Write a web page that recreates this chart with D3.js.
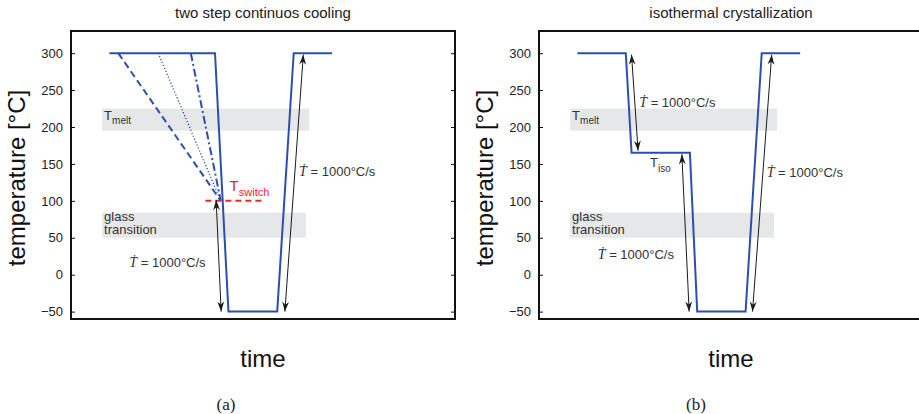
<!DOCTYPE html>
<html>
<head>
<meta charset="utf-8">
<title>two step continuos cooling / isothermal crystallization</title>
<script src="https://cdn.jsdelivr.net/npm/d3@7"></script>
<style>
    body { margin: 0; background: #fff; }
    svg { display: block; }
    .tick-label { font-family: "Liberation Sans", Arial, sans-serif; font-size: 13px; fill: #222; }
    .title { font-family: "Liberation Sans", Arial, sans-serif; font-size: 15px; fill: #222; }
    .big { font-family: "Liberation Sans", Arial, sans-serif; font-size: 24px; fill: #111; }
    .note { font-family: "Liberation Sans", Arial, sans-serif; font-size: 13px; fill: #333; }
    .caption { font-family: "Liberation Serif", "DejaVu Serif", serif; font-size: 17px; fill: #222; }
</style>
</head>
<body>
<script>
    // --- data (time is arbitrary units 0..100) ---
    var yTicks = [-50, 0, 50, 100, 150, 200, 250, 300];
    var titles = ["two step continuos cooling", "isothermal crystallization"];
    var captions = ["(a)", "(b)"];

    // panel (a): fast quench / reheat profile
    var coolTime = [10, 37.5, 41, 53.7, 58, 68];
    var coolTemp = [300, 300, -50, -50, 300, 300];
    // slower first-step cooling lines, all ending at T_switch
    var slowStart = [12.3, 22.7, 31.2];
    var slowStyle = ["dash", "dot", "dashdot"];
    var switchPoint = [39, 100];
    var switchLine = [35, 50];   // time extent of the red T_switch line

    // panel (b): isothermal hold
    var isoTime = [10, 22.6, 24.1, 39.3, 41.2, 53.8, 58, 68];
    var isoTemp = [300, 300, 165, 165, -50, -50, 300, 300];

    // grey bands [timeStart, timeEnd, tempLow, tempHigh]
    var meltBand = [8.1, 62, 195, 225];
    var glassBand = [8.1, 61.2, 50, 84];

    // double headed arrows [t1, T1, t2, T2]
    var arrowsA = [[37.8, 101, 39.1, -50], [55.7, -50, 60.5, 298]];
    var arrowsB = [[24.1, 298, 25.8, 168], [37.2, 163, 39.1, -50], [55.6, -50, 60.6, 298]];

    // rate labels [t, T]
    var rateA = [[15.2, 10.4], [59.4, 133.8]];
    var rateB = [[26.1, 227], [15.3, 20.8], [59.3, 132]];

    var blue = "#2b4fae";
    var red = "#e8272a";

    var svg = d3.select("body").append("svg")
        .attr("width", 919)
        .attr("height", 414);

    var defs = svg.append("defs");
    defs.append("marker")
        .attr("id", "head")
        .attr("viewBox", "-11 -4 12 8")
        .attr("refX", 0).attr("refY", 0)
        .attr("markerWidth", 12).attr("markerHeight", 8)
        .attr("markerUnits", "userSpaceOnUse")
        .attr("orient", "auto-start-reverse")
        .append("path")
        .attr("d", "M0,0 L-10,-3.4 L-7,0 L-10,3.4 Z")
        .attr("fill", "#1a1a1a");

    var y = d3.scaleLinear().domain([-60, 330]).range([319, 31]);

    function panel(x0, idx) {
        var x = d3.scaleLinear().domain([0, 100]).range([x0, x0 + 384]);
        var g = svg.append("g");

        // bands
        [meltBand, glassBand].forEach(function (b) {
            g.append("rect")
                .attr("x", x(b[0])).attr("width", x(b[1]) - x(b[0]))
                .attr("y", y(b[3])).attr("height", y(b[2]) - y(b[3]))
                .attr("fill", "#e6e7e8");
        });

        // axes (MATLAB style, ticks inside)
        var yAxisL = d3.axisLeft(y).tickValues(yTicks).tickSize(-4).tickPadding(8)
            .tickFormat(function (d) { return d < 0 ? "\u2212" + Math.abs(d) : d; });
        var yAxisR = d3.axisRight(y).tickValues(yTicks).tickSize(-4).tickFormat("");
        var ga = g.append("g").attr("transform", "translate(" + x0 + ",0)").call(yAxisL);
        ga.selectAll("text").attr("class", "tick-label").attr("font-size", null).attr("font-family", null);
        g.append("g").attr("transform", "translate(" + (x0 + 384) + ",0)").call(yAxisR);
        g.selectAll(".domain").remove();
        g.selectAll(".tick line").attr("stroke", "#111").attr("stroke-width", 1);
        g.append("rect")
            .attr("x", x0).attr("y", 31).attr("width", 384).attr("height", 288)
            .attr("fill", "none").attr("stroke", "#111").attr("stroke-width", 2);

        // titles and labels
        g.append("text").attr("class", "title").attr("x", x0 + 192).attr("y", 18)
            .attr("text-anchor", "middle").text(titles[idx]);
        g.append("text").attr("class", "big")
            .attr("transform", "translate(" + (x0 - 46) + ",178) rotate(-90)")
            .attr("text-anchor", "middle").text("temperature [\u00b0C]");
        g.append("text").attr("class", "big").attr("x", x0 + 192).attr("y", 367)
            .attr("text-anchor", "middle").text("time");
        g.append("text").attr("class", "caption").attr("x", idx === 0 ? 226 : 696).attr("y", 410)
            .attr("text-anchor", "middle").text(captions[idx]);

        // band labels
        var tm = g.append("text").attr("class", "note").attr("x", x(meltBand[0]) + 2).attr("y", y(209))
            .attr("font-size", "14px");
        tm.append("tspan").text("T");
        tm.append("tspan").attr("dy", 4).attr("font-size", "10px").text("melt");
        g.append("text").attr("class", "note").attr("x", x(glassBand[0]) + 2).attr("y", y(72.5))
            .attr("font-size", "11px").text("glass");
        g.append("text").attr("class", "note").attr("x", x(glassBand[0]) + 2).attr("y", y(54.6))
            .attr("font-size", "11px").text("transition");

        return {g: g, x: x};
    }

    function arrows(p, list) {
        list.forEach(function (a) {
            p.g.append("line")
                .attr("x1", p.x(a[0])).attr("y1", y(a[1]))
                .attr("x2", p.x(a[2])).attr("y2", y(a[3]))
                .attr("stroke", "#1a1a1a").attr("stroke-width", 1)
                .attr("marker-start", "url(#head)").attr("marker-end", "url(#head)");
        });
    }

    function rates(p, list) {
        list.forEach(function (r) {
            var t = p.g.append("text").attr("class", "note").attr("x", p.x(r[0])).attr("y", y(r[1]));
            t.append("tspan").attr("font-family", "'Liberation Serif', 'DejaVu Serif', serif")
                .attr("font-style", "italic").attr("font-size", "14px").text("\u1E6A");
            t.append("tspan").text(" = 1000\u00b0C/s");
        });
    }

    var line = function (p) {
        return d3.line().x(function (d) { return p.x(d[0]); }).y(function (d) { return y(d[1]); });
    };

    // ---------- panel (a) ----------
    var pa = panel(71, 0);
    var dashes = {dash: "7,4", dot: "1.2,2", dashdot: "8,3,2,3"};
    var widths = {dash: 2, dot: 1.3, dashdot: 2};
    slowStart.forEach(function (s, i) {
        pa.g.append("path")
            .attr("d", line(pa)([[s, 300], switchPoint]))
            .attr("fill", "none").attr("stroke", blue)
            .attr("stroke-width", widths[slowStyle[i]])
            .attr("stroke-dasharray", dashes[slowStyle[i]]);
    });
    pa.g.append("path")
        .attr("d", line(pa)(d3.zip(coolTime, coolTemp)))
        .attr("fill", "none").attr("stroke", blue).attr("stroke-width", 2);
    pa.g.append("line")
        .attr("x1", pa.x(switchLine[0])).attr("x2", pa.x(switchLine[1]))
        .attr("y1", y(switchPoint[1])).attr("y2", y(switchPoint[1]))
        .attr("stroke", red).attr("stroke-width", 2).attr("stroke-dasharray", "6,4");
    var ts = pa.g.append("text").attr("x", pa.x(41.3)).attr("y", y(113))
        .attr("font-family", "'Liberation Sans', Arial, sans-serif").attr("font-size", "15px").attr("fill", red);
    ts.append("tspan").text("T");
    ts.append("tspan").attr("dy", 5).attr("font-size", "11px").text("switch");
    arrows(pa, arrowsA);
    rates(pa, rateA);

    // ---------- panel (b) ----------
    var pb = panel(539, 1);
    pb.g.append("path")
        .attr("d", line(pb)(d3.zip(isoTime, isoTemp)))
        .attr("fill", "none").attr("stroke", blue).attr("stroke-width", 2);
    var ti = pb.g.append("text").attr("class", "note").attr("x", pb.x(28.9)).attr("y", y(146))
        .attr("font-size", "14px");
    ti.append("tspan").text("T");
    ti.append("tspan").attr("dy", 5).attr("font-size", "10px").text("iso");
    arrows(pb, arrowsB);
    rates(pb, rateB);
</script>
</body>
</html>
